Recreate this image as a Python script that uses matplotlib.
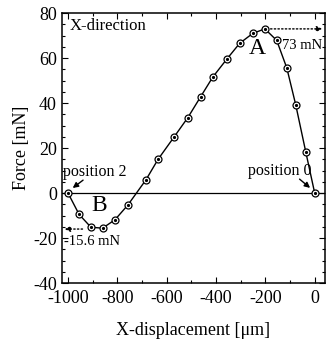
import numpy as np
import matplotlib.pyplot as plt
from matplotlib.ticker import MultipleLocator

# values
x_disp = [0, -36, -77, -113, -154, -202, -251, -304, -356, -413, -462,
          -514, -571, -635, -684, -758, -810, -860, -907, -955, -1000]
force = [0, 18.2, 39.3, 55.6, 67.9, 73.0, 71.0, 66.6, 59.6, 51.6, 42.9,
         33.6, 24.8, 15.0, 5.9, -5.4, -11.9, -15.6, -15.2, -9.5, 0]
x_ticks = [-1000, -800, -600, -400, -200, 0]
y_ticks = [-40, -20, 0, 20, 40, 60, 80]

plt.rcParams['font.family'] = ['Liberation Serif', 'DejaVu Serif']

fig = plt.figure(figsize=(3.29, 3.46), dpi=100)
ax = fig.add_axes([0.188, 0.182, 0.800, 0.780])

ax.axhline(0, color='black', lw=0.9)
ax.plot(x_disp, force, color='black', lw=1.0, marker='o', ms=5,
        mfc='white', mec='black', mew=0.9)
ax.plot(x_disp, force, ls='none', marker='o', ms=1.3, color='black')

ax.set_xlim(-1025, 42)
ax.set_ylim(-40, 80)
ax.set_xticks(x_ticks)
ax.set_yticks(y_ticks)
ax.xaxis.set_minor_locator(MultipleLocator(100))
ax.yaxis.set_minor_locator(MultipleLocator(5))
ax.tick_params(which='both', direction='in', top=True, right=True,
               labelsize=13, width=0.8)
ax.tick_params(which='major', length=4)
ax.tick_params(which='minor', length=2)
ax.tick_params(axis='x', pad=5)
ax.set_xticklabels([str(t) for t in x_ticks])
ax.set_yticklabels([str(t) for t in y_ticks])
for s in ax.spines.values():
    s.set_linewidth(1.1)

ax.set_xlabel('X-displacement [\u03bcm]', fontsize=13, labelpad=11)
ax.set_ylabel('Force [mN]', fontsize=13, labelpad=2)

ax.text(-995, 74.5, 'X-direction', fontsize=12, va='center')
ax.text(-232, 64.5, 'A', fontsize=17, ha='center', va='center')
ax.text(-132, 65.5, '73 mN', fontsize=10.5, va='center')
ax.annotate('', xy=(42, 73), xytext=(-190, 73),
            arrowprops=dict(arrowstyle='-|>', ls=':', color='black', lw=1.0,
                            mutation_scale=8))
ax.text(-875, -5.5, 'B', fontsize=17, ha='center', va='center')
ax.text(-1018, -21.5, '-15.6 mN', fontsize=10.5, va='center')
ax.annotate('', xy=(-1025, -16), xytext=(-930, -16),
            arrowprops=dict(arrowstyle='-|>', ls=':', color='black', lw=1.0,
                            mutation_scale=8))
ax.text(-1020, 9.5, 'position 2', fontsize=11.5, va='center')
ax.annotate('', xy=(-990, 1.5), xytext=(-930, 6.5),
            arrowprops=dict(arrowstyle='-|>', color='black', lw=1.0,
                            mutation_scale=8))
ax.text(-12, 10, 'position 0', fontsize=11.5, va='center', ha='right')
ax.annotate('', xy=(-10, 1.5), xytext=(-70, 7),
            arrowprops=dict(arrowstyle='-|>', color='black', lw=1.0,
                            mutation_scale=8))

fig.savefig('out.png', dpi=100)
